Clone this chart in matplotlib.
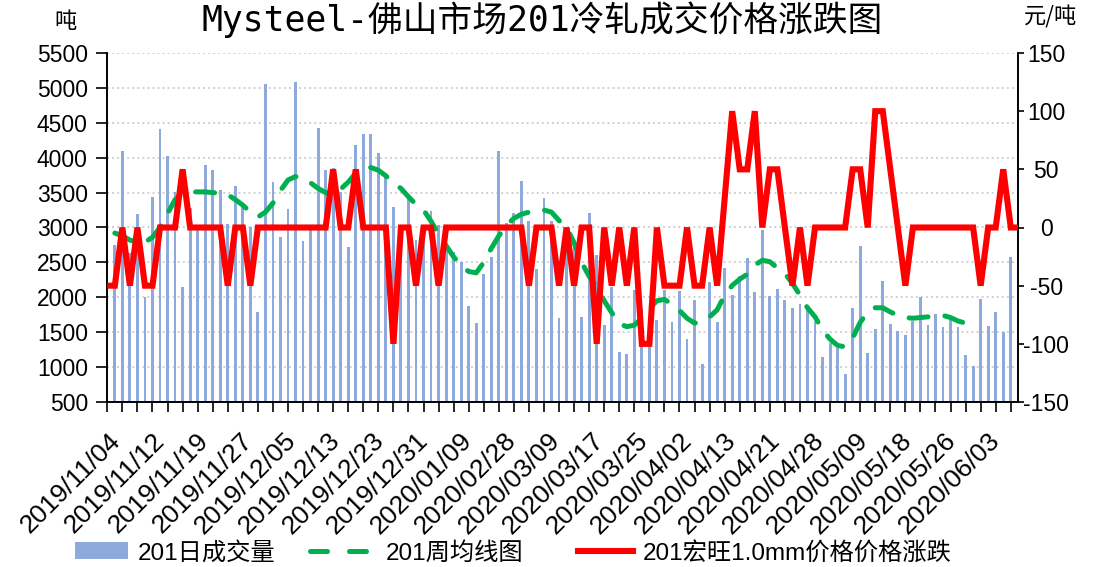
import numpy as np
import matplotlib
matplotlib.use('Agg')
import matplotlib.pyplot as plt
from matplotlib.lines import Line2D
from matplotlib.patches import Patch

nan = np.nan

tick_labels = ['2019/11/04', '2019/11/12', '2019/11/19', '2019/11/27', '2019/12/05',
               '2019/12/13', '2019/12/23', '2019/12/31', '2020/01/09', '2020/02/28',
               '2020/03/09', '2020/03/17', '2020/03/25', '2020/04/02', '2020/04/13',
               '2020/04/21', '2020/04/28', '2020/05/09', '2020/05/18', '2020/05/26',
               '2020/06/03']

# 201 daily volume (tons), left axis
volume = [nan,
          2750, 4090, 2630, 3200, 2000, 3440, 4410, 4020, 3510, 2150,
          3280, 3010, 3890, 3820, 3540, 3050, 3600, 3300, 3010, 1790,
          5060, 3650, 2870, 3260, 5090,
          2800, 2960, 4420, 3820, 3850, 3510, 2720, 4180, 4340, 4340,
          4070, 3730, 3300, 3010, 3470, 2820, 2960, 3240, 3040, 2720,
          2650, 2510, 1880, 1630, 2340, 2580,
          4090, 3070, 3210, 3660, 3100, 2400, 3420, 3100, 1710, 2800,
          2750, 1720, 3210, 2600, 1600, 2150, 1220, 1190, 2100, 1850,
          1700, 1680, 2100, 1650, 2090,
          1400, 1960, 1040, 2220, 1640, 2420, 2030, 2310, 2570, 2080,
          2960, 2020, 2120, 1960, 1850, 1910, 1870, 1640, 1150, 1340,
          1270, 900, 1850, 2735, 1200,
          1550, 2230, 1620, 1520, 1455, 1665, 2010, 1600, 1755, 1580,
          1685, 1580, 1175, 1020, 1975, 1595, 1795, 1500, 2575,
          nan]

# 201 weekly average (tons), left axis
weekly_avg = [nan,
              2920, 2880, 2820, 2790, 2790, 2860, 3000, 3200, 3400, 3490,
              3510, 3510, 3510, 3500, 3490, 3470, 3400, 3320, 3220, 3150,
              3220, 3350, 3530, 3680, 3730, 3700, 3640, 3560, 3500, 3480,
              3550, 3650, 3780, 3850, 3860, 3820, 3740, 3640, 3560, 3440,
              3330, 3250, 3090, 2900, 2740, 2580, 2450, 2370, 2350, 2500,
              2700, 2880, 3030, 3130, 3190, 3220, 3250, 3250, 3220, 3100,
              3000, 2780, 2500, 2300, 2150, 1950, 1780, 1620, 1580, 1600,
              1700, 1840, 1950, 1970, 1900, 1810, 1700, 1630, 1650, 1720,
              1820, 2030, 2170, 2260, 2330, 2460, 2530, 2510, 2420, 2340,
              2200, 2030, 1850, 1720, 1530, 1400, 1310, 1290, 1420, 1640,
              1790, 1850, 1850, 1790, 1740, 1710, 1700, 1710, 1720, 1740,
              1740, 1710, 1660, 1630,
              nan, nan, nan, nan, nan, nan, nan]

# 201 Hongwang 1.0mm price change (yuan/ton), right axis
price_change = [-50, -50, 0, -50, 0, -50, -50, 0, 0, 0,
                50, 0, 0, 0, 0, 0, -50, 0, 0, -50,
                0, 0, 0, 0, 0, 0, 0, 0, 0, 0,
                50, 0, 0, 50, 0, 0, 0, 0, -100, 0,
                0, -50, 0, 0, -50, 0, 0, 0, 0, 0,
                0, 0, 0, 0, 0, 0, -50, 0, 0, 0,
                -50, 0, -50, 0, 0, -100, 0, -50, 0, -50,
                0, -100, -100, 0, -50, -50, -50, 0, -50, -50,
                0, -50, 25, 100, 50, 50, 100, 0, 50, 50,
                0, -50, 0, -50, 0, 0, 0, 0, 0, 50,
                50, 0, 100, 100, 50, 0, -50, 0, 0, 0,
                0, 0, 0, 0, 0, 0, -50, 0, 0, 50,
                0, 0]

plt.rcParams['axes.unicode_minus'] = False
plt.rcParams['font.family'] = ['Liberation Sans', 'Noto Sans CJK SC']

W, H, DPI = 1094, 567, 100
fig = plt.figure(figsize=(W / DPI, H / DPI), dpi=DPI)
L, R, B, T = 107.3, 1018.3, 402.0, 53.0
ax = fig.add_axes([L / W, 1 - B / H, (R - L) / W, (B - T) / H])
ax2 = ax.twinx()

n = len(price_change)
x = np.arange(n)
vol = np.array(volume, dtype=float)
m = ~np.isnan(vol)

BAR_C = '#8EA9DB'
GREEN = '#00B050'
RED = '#FF0000'

ax.bar(x[m], vol[m], width=0.38, color=BAR_C, zorder=2)
ax.plot(x, np.array(weekly_avg, dtype=float), color=GREEN, lw=3.6,
        dashes=(3.8, 3.4), dash_capstyle='round', zorder=3)
ax2.plot(x, price_change, color=RED, lw=4.4, solid_joinstyle='miter',
         solid_capstyle='butt', zorder=3)

ax.set_xlim(0, n - 1)
ax.set_ylim(500, 5500)
ax.set_yticks(np.arange(500, 5501, 500))
ax2.set_ylim(-150, 150)
ax2.set_yticks(np.arange(-150, 151, 50))

ax.set_axisbelow(True)
ax.yaxis.grid(True, linestyle=(0, (1.0, 1.6)), color='#D0D0D0', lw=1.4)

# x ticks: marks every 2 categories, labels as in the reference
ax.set_xticks(np.arange(0, n, 2))
ax.set_xticklabels([])
ax.tick_params(axis='x', which='major', length=7.5, width=1.2, direction='out')
lab_x = (108 + 44 * np.arange(len(tick_labels)) - L) / (R - L) * (n - 1)
ax.set_xticks(lab_x, minor=True)
ax.set_xticklabels(tick_labels, minor=True, rotation=45, ha='right', va='top',
                   rotation_mode='anchor', fontsize=19)
ax.tick_params(axis='x', which='minor', length=0, pad=19)

ax.tick_params(axis='y', length=8, width=1.2, pad=6, labelsize=16.5)
ax2.tick_params(axis='y', length=4.5, width=1.2, pad=15.5, labelsize=16.5)
for t in ax2.get_yticklabels():
    t.set_horizontalalignment('center')

for a in (ax, ax2):
    a.spines['top'].set_visible(False)
    for s in ('left', 'right', 'bottom'):
        a.spines[s].set_color('black')
        a.spines[s].set_linewidth(1.2)

# titles / units
fig.text(542 / W, 1 - 31 / H, 'Mysteel-佛山市场201冷轧成交价格涨跌图', ha='center',
         va='baseline', fontsize=25, family=['DejaVu Sans Mono', 'Noto Sans CJK SC'])
fig.text(66 / W, 1 - 21 / H, '吨', ha='center', va='center', fontsize=16,
         family=['Noto Sans CJK SC'])
fig.text(1051 / W, 1 - 17 / H, '元/吨', ha='center', va='center', fontsize=16,
         family=['Noto Sans CJK SC'])

# legend entries
prop = dict(family=['Liberation Sans', 'Noto Sans CJK SC'], size=17.5)
entries = [
    (Patch(facecolor=BAR_C), '201日成交量', 75, 2.2),
    (Line2D([], [], color=GREEN, lw=3.6, dashes=(3.4, 4.4), dash_capstyle='round'),
     '201周均线图', 310, 2.7),
    (Line2D([], [], color=RED, lw=4.4), '201宏旺1.0mm价格价格涨跌', 578, 2.25),
]
for h, lab, xp, hl in entries:
    fig.legend([h], [lab], loc='center left', bbox_to_anchor=(xp / W, 1 - 553 / H),
               frameon=False, borderpad=0, borderaxespad=0, handlelength=hl,
               handletextpad=0.4, prop=prop)

fig.savefig('out.png', dpi=DPI)
